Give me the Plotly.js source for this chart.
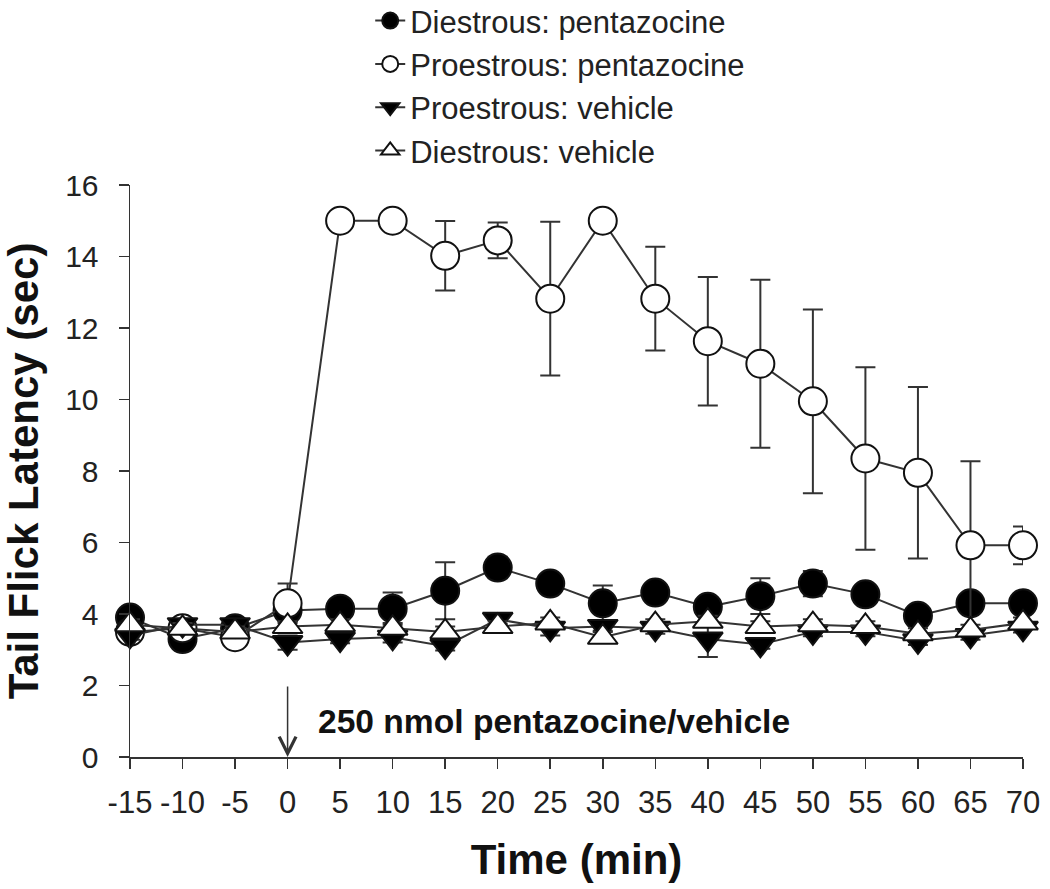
<!DOCTYPE html>
<html>
<head>
<meta charset="utf-8">
<script src="https://cdn.plot.ly/plotly-3.0.1.min.js"></script>
<style>html,body{margin:0;padding:0;background:#fff;}#chart{width:1050px;height:889px;}</style>
</head>
<body>
<div id="chart"></div>
<script>
// Time points (min)
const timeMin = [-15, -10, -5, 0, 5, 10, 15, 20, 25, 30, 35, 40, 45, 50, 55, 60, 65, 70];
const xTickVals = [-15, -10, -5, 0, 5, 10, 15, 20, 25, 30, 35, 40, 45, 50, 55, 60, 65, 70];
const yTickVals = [0, 2, 4, 6, 8, 10, 12, 14, 16];

const seriesNames = ["Diestrous: pentazocine", "Proestrous: pentazocine", "Proestrous: vehicle", "Diestrous: vehicle"];

// Diestrous: pentazocine (filled circle)
const diPent    = [3.9, 3.3, 3.6, 4.1, 4.15, 4.15, 4.65, 5.3, 4.85, 4.3, 4.6, 4.2, 4.5, 4.85, 4.55, 3.95, 4.3, 4.3];
const diPentErr = [0.15, 0.15, 0.15, 0.3, 0.2, 0.45, 0.8, 0.3, 0.2, 0.5, 0.2, 0.2, 0.5, 0.35, 0.2, 0.2, 0.2, 0.2];

// Proestrous: pentazocine (open circle)
const proPent    = [3.5, 3.6, 3.35, 4.3, 15.0, 15.0, 14.02, 14.45, 12.82, 15.0, 12.82, 11.63, 11.0, 9.95, 8.35, 7.95, 5.92, 5.92];
const proPentErr = [0.1, 0.1, 0.15, 0.55, 0, 0, 0.97, 0.5, 2.15, 0, 1.45, 1.8, 2.35, 2.57, 2.55, 2.4, 2.35, 0.53];

// Proestrous: vehicle (filled down-triangle)
const proVeh    = [3.4, 3.7, 3.7, 3.2, 3.3, 3.35, 3.1, 3.85, 3.6, 3.65, 3.6, 3.3, 3.15, 3.5, 3.5, 3.25, 3.4, 3.6];
const proVehErr = [0.12, 0.12, 0.12, 0.2, 0.12, 0.15, 0.12, 0.12, 0.2, 0.12, 0.15, 0.5, 0.12, 0.12, 0.12, 0.12, 0.12, 0.12];

// Diestrous: vehicle (open up-triangle)
const diVeh    = [3.7, 3.6, 3.5, 3.65, 3.7, 3.6, 3.5, 3.65, 3.75, 3.35, 3.7, 3.8, 3.65, 3.7, 3.65, 3.45, 3.55, 3.75];
const diVehErr = [0.15, 0.15, 0.15, 0.15, 0.15, 0.15, 0.15, 0.15, 0.15, 0.15, 0.15, 0.15, 0.15, 0.15, 0.15, 0.15, 0.15, 0.15];

const FONT = '"Liberation Sans", Arial, Helvetica, sans-serif';
const LINE = '#333333';

function mk(name, y, err, symbol, fill, size) {
  return {
    type: 'scatter', mode: 'lines+markers', name: name,
    x: timeMin, y: y,
    cliponaxis: false,
    line: {color: LINE, width: 2},
    marker: {symbol: symbol, size: size, color: fill, line: {color: '#111', width: 2}},
    error_y: {type: 'data', array: err, visible: true, color: LINE, thickness: 2, width: 10}
  };
}

const data = [
  mk(seriesNames[0], diPent, diPentErr, 'circle', '#000000', 28),
  mk(seriesNames[1], proPent, proPentErr, 'circle', '#ffffff', 28),
  mk(seriesNames[2], proVeh, proVehErr, 'triangle-down', '#000000', 26),
  mk(seriesNames[3], diVeh, diVehErr, 'triangle-up', '#ffffff', 26)
];

const layout = {
  width: 1050, height: 889,
  margin: {l: 130, r: 27, t: 185, b: 132, autoexpand: false},
  paper_bgcolor: '#ffffff', plot_bgcolor: '#ffffff',
  font: {family: FONT, color: '#111'},
  showlegend: true,
  legend: {
    x: 0.269, y: 1.334, xanchor: 'left', yanchor: 'top',
    font: {size: 31, family: FONT, color: '#222'},
    bgcolor: 'rgba(0,0,0,0)', tracegroupgap: 0, itemsizing: 'trace'
  },
  xaxis: {
    range: [-15, 70], tickmode: 'array', tickvals: xTickVals, ticktext: xTickVals.map(String),
    automargin: false, tickangle: 0,
    showline: true, linecolor: LINE, linewidth: 1.5, mirror: false,
    ticks: 'outside', ticklen: 10, tickwidth: 1.5, tickcolor: LINE,
    showgrid: false, zeroline: false,
    tickfont: {size: 31, family: FONT, color: '#222'},
    ticklabelstandoff: 7,
    title: {text: 'Time (min)', font: {size: 42, family: FONT, weight: 'bold', color: '#111'}, standoff: 26}
  },
  yaxis: {
    range: [0, 16], tickmode: 'array', tickvals: yTickVals, ticktext: yTickVals.map(String),
    automargin: false,
    showline: true, linecolor: LINE, linewidth: 1.5,
    ticks: 'outside', ticklen: 10, tickwidth: 1.5, tickcolor: LINE,
    showgrid: false, zeroline: false,
    tickfont: {size: 30, family: FONT, color: '#222'},
    ticklabelstandoff: 14,
    title: {text: 'Tail Flick Latency (sec)', font: {size: 42, family: FONT, weight: 'bold', color: '#111'}, standoff: 14}
  },
  annotations: [
    {x: 0, y: 0, xref: 'x', yref: 'y', text: '', showarrow: true,
     ax: 0, ay: -72, arrowhead: 5, arrowsize: 2.2, arrowwidth: 1.5, arrowcolor: LINE, standoff: 0},
    {x: 0, y: 1, xref: 'x', yref: 'y', text: '250 nmol pentazocine/vehicle', showarrow: false,
     xanchor: 'left', yanchor: 'middle', xshift: 28,
     font: {size: 33.6, family: FONT, weight: 'bold', color: '#111'}}
  ]
};

Plotly.newPlot('chart', data, layout, {displayModeBar: false, staticPlot: true});
</script>
</body>
</html>
